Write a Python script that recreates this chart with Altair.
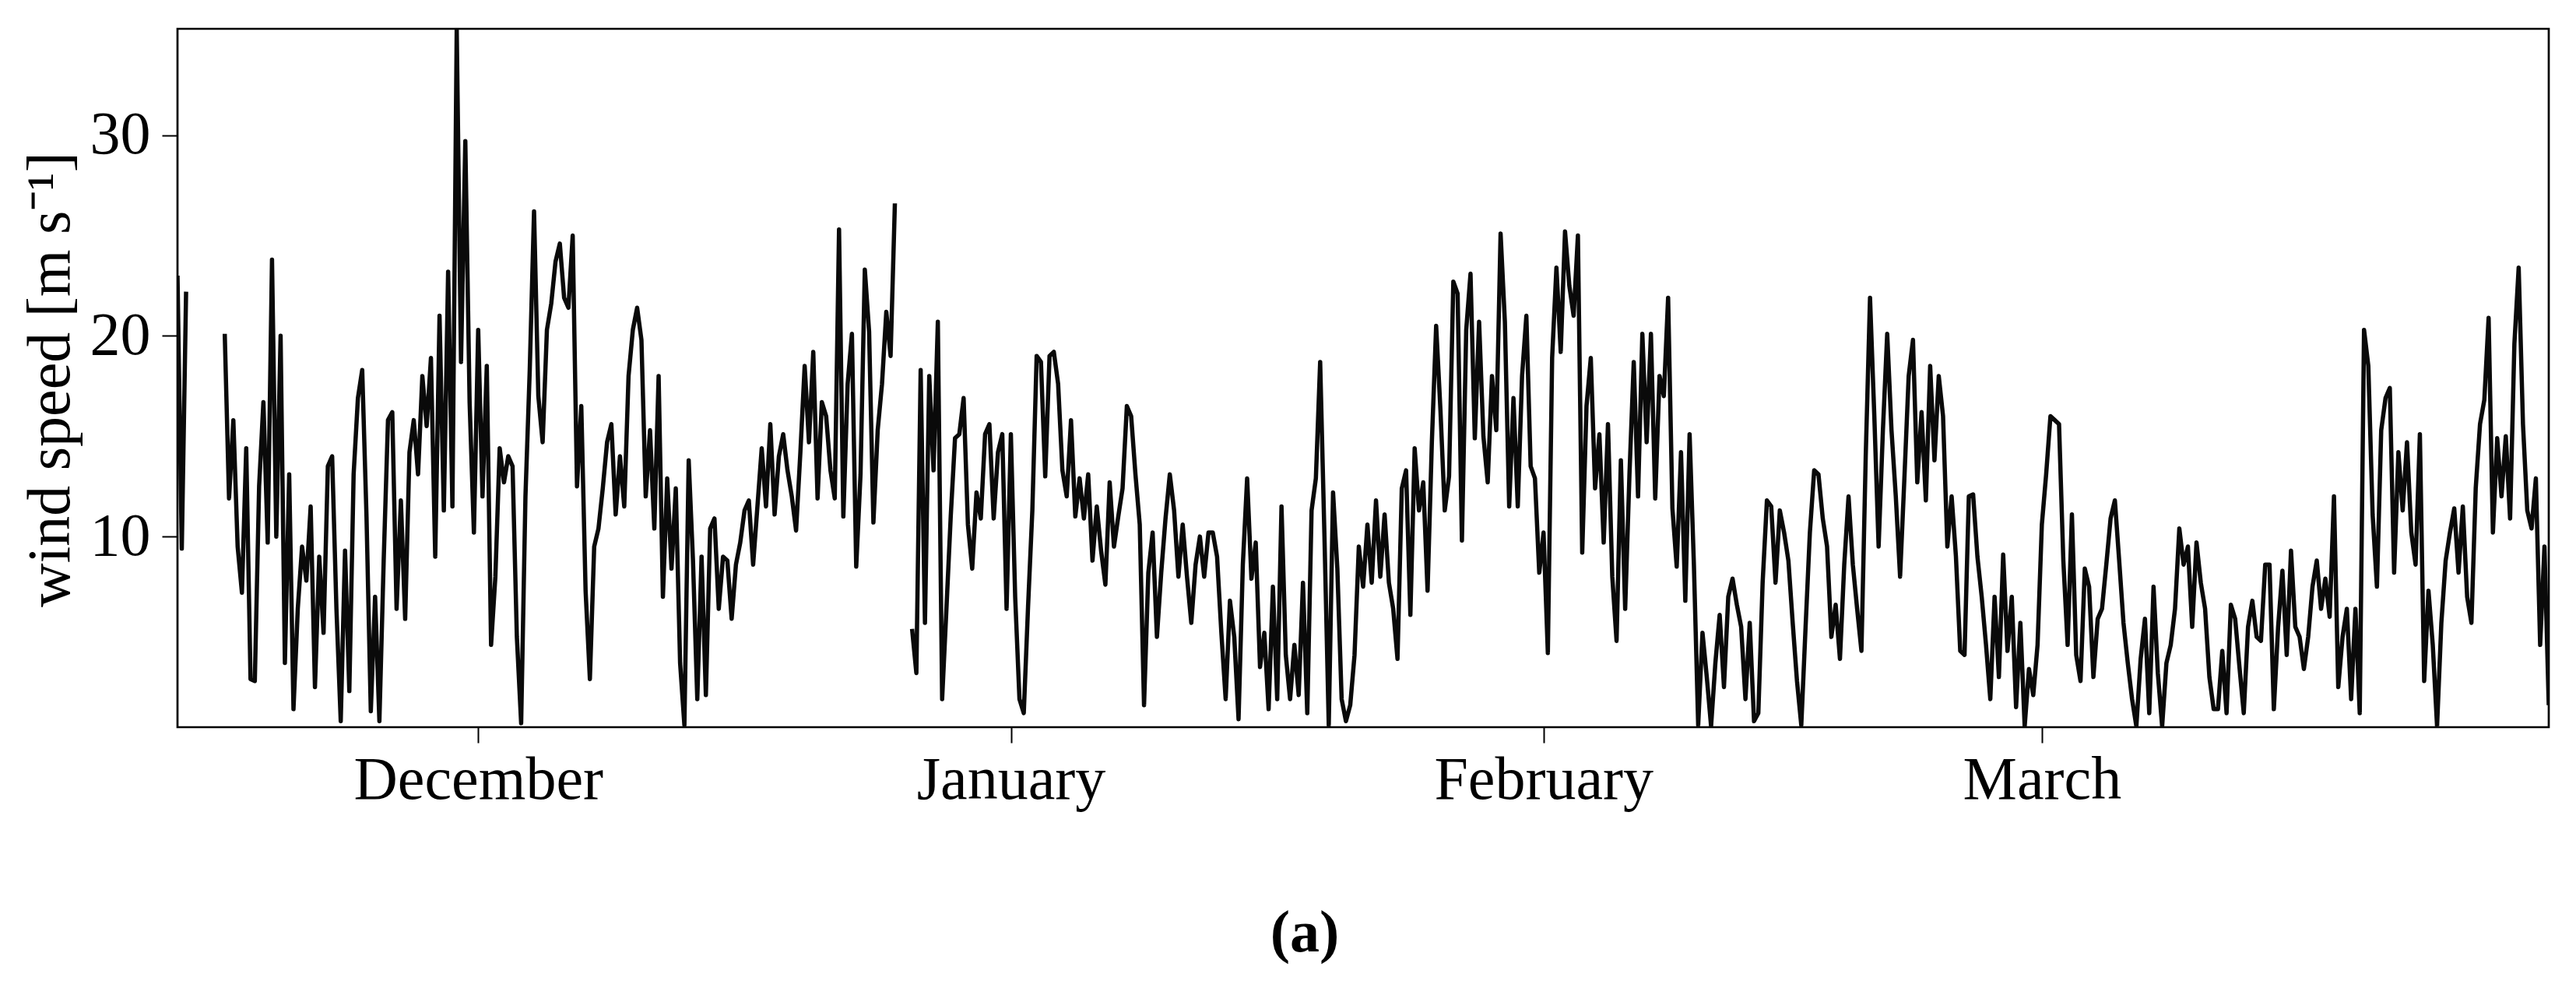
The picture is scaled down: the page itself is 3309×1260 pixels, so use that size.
import altair as alt
import pandas as pd

# ---------------- data (6-hourly wind speed, m/s) ----------------
# three continuous pieces of record (gaps in between)
seg_a_start = "2019-11-13T12:00:00"
seg_a = [23.0, 9.4, 22.2]

seg_b_start = "2019-11-16T06:00:00"
seg_b = [
    20.1, 11.9, 15.8, 9.5, 7.2, 14.4, 2.9, 2.8, 12.5, 16.7,
    9.7, 23.8, 10.0, 20.0, 3.7, 13.1, 1.4, 6.4, 9.5, 7.8,
    11.5, 2.5, 9.0, 5.2, 13.5, 14.0, 6.4, 0.8, 9.3, 2.3,
    13.1, 16.9, 18.3, 11.0, 1.3, 7.0, 0.8, 8.8, 15.8, 16.2,
    6.4, 11.8, 5.9, 14.2, 15.8, 13.1, 18.0, 15.5, 18.9, 9.0,
    21.0, 11.3, 23.2, 11.5, 35.3, 18.7, 29.7, 16.7, 10.2, 20.3,
    12.0, 18.5, 4.6, 8.0, 14.4, 12.7, 14.0, 13.5, 5.0, 0.7,
    12.0, 18.3, 26.2, 17.0, 14.7, 20.3, 21.6, 23.7, 24.6, 21.9,
    21.4, 25.0, 12.5, 16.5, 7.3, 2.9, 9.5, 10.4, 12.4, 14.7,
    15.6, 11.1, 14.0, 11.5, 18.0, 20.3, 21.4, 19.8, 12.0, 15.3,
    10.4, 18.0, 7.0, 12.9, 8.4, 12.4, 3.7, 0.6, 13.8, 8.8,
    1.9, 9.0, 2.1, 10.4, 10.9, 6.4, 9.0, 8.8, 5.9, 8.6,
    9.7, 11.3, 11.8, 8.6, 11.5, 14.4, 11.5, 15.6, 11.1, 14.0,
    15.1, 13.3, 12.0, 10.3, 14.2, 18.5, 14.7, 19.2, 11.9, 16.7,
    16.0, 13.3, 11.9, 25.3, 11.0, 17.6, 20.1, 8.5, 13.1, 23.3,
    20.2, 10.7, 15.3, 17.6, 21.2, 19.0, 26.6,
]

seg_c_start = "2019-12-26T06:00:00"
seg_c = [
    5.4, 3.2, 18.3, 5.7, 18.0, 13.3, 20.7, 1.9, 6.4, 11.0,
    14.9, 15.1, 16.9, 10.6, 8.4, 12.2, 10.9, 15.1, 15.6, 10.9,
    14.2, 15.1, 6.4, 15.1, 7.0, 1.9, 1.2, 6.5, 11.3, 19.0,
    18.7, 13.0, 19.0, 19.2, 17.6, 13.3, 12.0, 15.8, 11.0, 12.9,
    10.9, 13.1, 8.8, 11.5, 9.3, 7.6, 12.7, 9.5, 11.0, 12.4,
    16.5, 16.0, 13.1, 10.6, 1.6, 8.2, 10.2, 5.0, 8.2, 10.9,
    13.1, 11.3, 8.0, 10.6, 8.0, 5.7, 8.6, 10.0, 8.0, 10.2,
    10.2, 9.0, 5.2, 1.9, 6.8, 5.0, 0.9, 8.6, 12.9, 7.9,
    9.7, 3.5, 5.2, 1.4, 7.5, 1.9, 11.5, 4.1, 1.9, 4.6,
    2.1, 7.7, 1.2, 11.3, 12.9, 18.7, 10.0, 0.6, 12.2, 8.4,
    1.9, 0.8, 1.6, 4.1, 9.5, 7.5, 10.6, 7.7, 11.8, 8.0,
    11.1, 7.7, 6.4, 3.9, 12.4, 13.3, 6.1, 14.4, 11.3, 12.7,
    7.3, 14.7, 20.5, 16.3, 11.3, 13.0, 22.7, 22.1, 9.8, 20.3,
    23.1, 14.9, 20.7, 15.0, 12.7, 18.0, 15.3, 25.1, 20.7, 11.5,
    16.9, 11.5, 18.0, 21.0, 13.5, 12.9, 8.2, 10.2, 4.2, 18.9,
    23.4, 19.2, 25.2, 22.5, 21.0, 25.0, 9.2, 16.5, 18.9, 12.4,
    15.1, 9.7, 15.6, 8.0, 4.8, 13.8, 6.4, 13.1, 18.7, 12.0,
    20.1, 14.7, 20.1, 11.9, 18.0, 17.0, 21.9, 11.4, 8.5, 14.2,
    6.8, 15.1, 8.6, 0.6, 5.2, 3.0, 0.55, 3.7, 6.1, 2.5,
    7.0, 7.9, 6.6, 5.5, 1.9, 5.7, 0.8, 1.2, 7.7, 11.8,
    11.5, 7.7, 11.3, 10.2, 8.8, 5.7, 2.8, 0.6, 5.5, 10.2,
    13.3, 13.1, 10.9, 9.5, 5.0, 6.6, 3.9, 8.6, 12.0, 8.6,
    6.4, 4.3, 14.0, 21.9, 16.0, 9.5, 15.3, 20.1, 15.3, 12.0,
    8.0, 12.9, 18.0, 19.8, 12.7, 16.2, 11.8, 18.5, 13.8, 18.0,
    16.0, 9.5, 12.0, 9.0, 4.3, 4.1, 12.0, 12.1, 9.0, 7.0,
    4.6, 1.9, 7.0, 3.0, 9.1, 4.3, 7.0, 1.5, 5.7, 0.55,
    3.4, 2.1, 4.6, 10.6, 13.1, 16.0, 15.8, 15.6, 8.8, 4.6,
    11.1, 4.1, 2.8, 8.4, 7.5, 3.0, 5.9, 6.4, 8.6, 10.9,
    11.8, 8.8, 5.7, 3.7, 1.9, 0.55, 3.9, 5.9, 1.2, 7.5,
    3.2, 0.55, 3.7, 4.6, 6.4, 10.4, 8.6, 9.5, 5.5, 9.7,
    7.7, 6.4, 3.0, 1.4, 1.4, 4.3, 1.2, 6.6, 5.9, 3.5,
    1.2, 5.5, 6.8, 5.0, 4.8, 8.6, 8.6, 1.4, 5.5, 8.3,
    4.1, 9.3, 5.5, 5.0, 3.4, 5.0, 7.5, 8.8, 6.4, 7.9,
    6.0, 12.0, 2.5, 5.0, 6.4, 1.9, 6.4, 1.2, 20.3, 18.5,
    11.1, 7.5, 15.3, 16.9, 17.4, 8.2, 14.2, 11.3, 14.7, 10.2,
    8.6, 15.1, 2.8, 7.3, 4.6, 0.55, 5.7, 8.8, 10.2, 11.4,
    8.2, 11.5, 7.0, 5.7, 12.4, 15.6, 16.8, 20.9, 10.2, 14.9,
    12.0, 15.0, 10.9, 19.6, 23.4, 15.6, 11.3, 10.4, 12.9, 4.6,
    9.5, 1.6,
]

y_ticks = [10, 20, 30]
y_title = "wind speed [m s\u207b\u00b9]"
caption = "(a)"

# ---------------- table ----------------
frames = []
for k, (start, vals) in enumerate([(seg_a_start, seg_a), (seg_b_start, seg_b), (seg_c_start, seg_c)]):
    t = pd.date_range(start, periods=len(vals), freq="6h")
    frames.append(pd.DataFrame({"time": t, "speed": vals, "seg": k}))
df = pd.concat(frames, ignore_index=True)

x_start = alt.DateTime(year=2019, month=11, date=13, hours=12)
x_end = alt.DateTime(year=2020, month=3, date=30, hours=12)
month_ticks = [
    alt.DateTime(year=2019, month=12, date=1),
    alt.DateTime(year=2020, month=1, date=1),
    alt.DateTime(year=2020, month=2, date=1),
    alt.DateTime(year=2020, month=3, date=1),
]

FONT = "Liberation Serif"

line = alt.Chart(df).mark_line(
    color="#0a0a0a", strokeWidth=5.5, strokeJoin="round", clip=True
).encode(
    x=alt.X(
        "time:T",
        scale=alt.Scale(domain=[x_start, x_end], nice=False),
        axis=alt.Axis(
            values=month_ticks, format="%B", title=None, grid=False, domain=False,
            tickSize=20, tickWidth=2, tickColor="black",
            labelFont=FONT, labelFontSize=78, labelColor="black",
            labelPadding=9, labelFlush=False, labelOverlap=False, labelLimit=1000,
        ),
    ),
    y=alt.Y(
        "speed:Q",
        scale=alt.Scale(domain=[0.5, 35.3], nice=False, zero=False),
        axis=alt.Axis(
            values=y_ticks, title=y_title, grid=False, domain=False,
            tickSize=20, tickWidth=2, tickColor="black",
            labelFont=FONT, labelFontSize=78, labelColor="black", labelPadding=15,
            titleFont=FONT, titleFontSize=78, titleFontWeight="normal", titleColor="black",
            titleAngle=270, titleX=-140, titleY=450, titleAlign="center",
            titleBaseline="alphabetic", titleLimit=2000,
        ),
    ),
    detail="seg:N",
)

cap = alt.Chart(pd.DataFrame({"label": [caption]})).mark_text(
    font=FONT, fontSize=76, fontWeight="bold", align="center",
    baseline="alphabetic", color="black",
).encode(
    text="label:N",
    x=alt.value(1448),
    y=alt.value(1185),
)

chart = alt.layer(line, cap).properties(
    width=3046,
    height=897,
    autosize=alt.AutoSizeParams(type="none"),
    padding={"left": 220, "top": 29, "right": 27, "bottom": 318},
    background="white",
).configure_view(stroke="black", strokeWidth=2.7)

chart.save("out.html", embed_options={"renderer": "svg", "actions": False})
